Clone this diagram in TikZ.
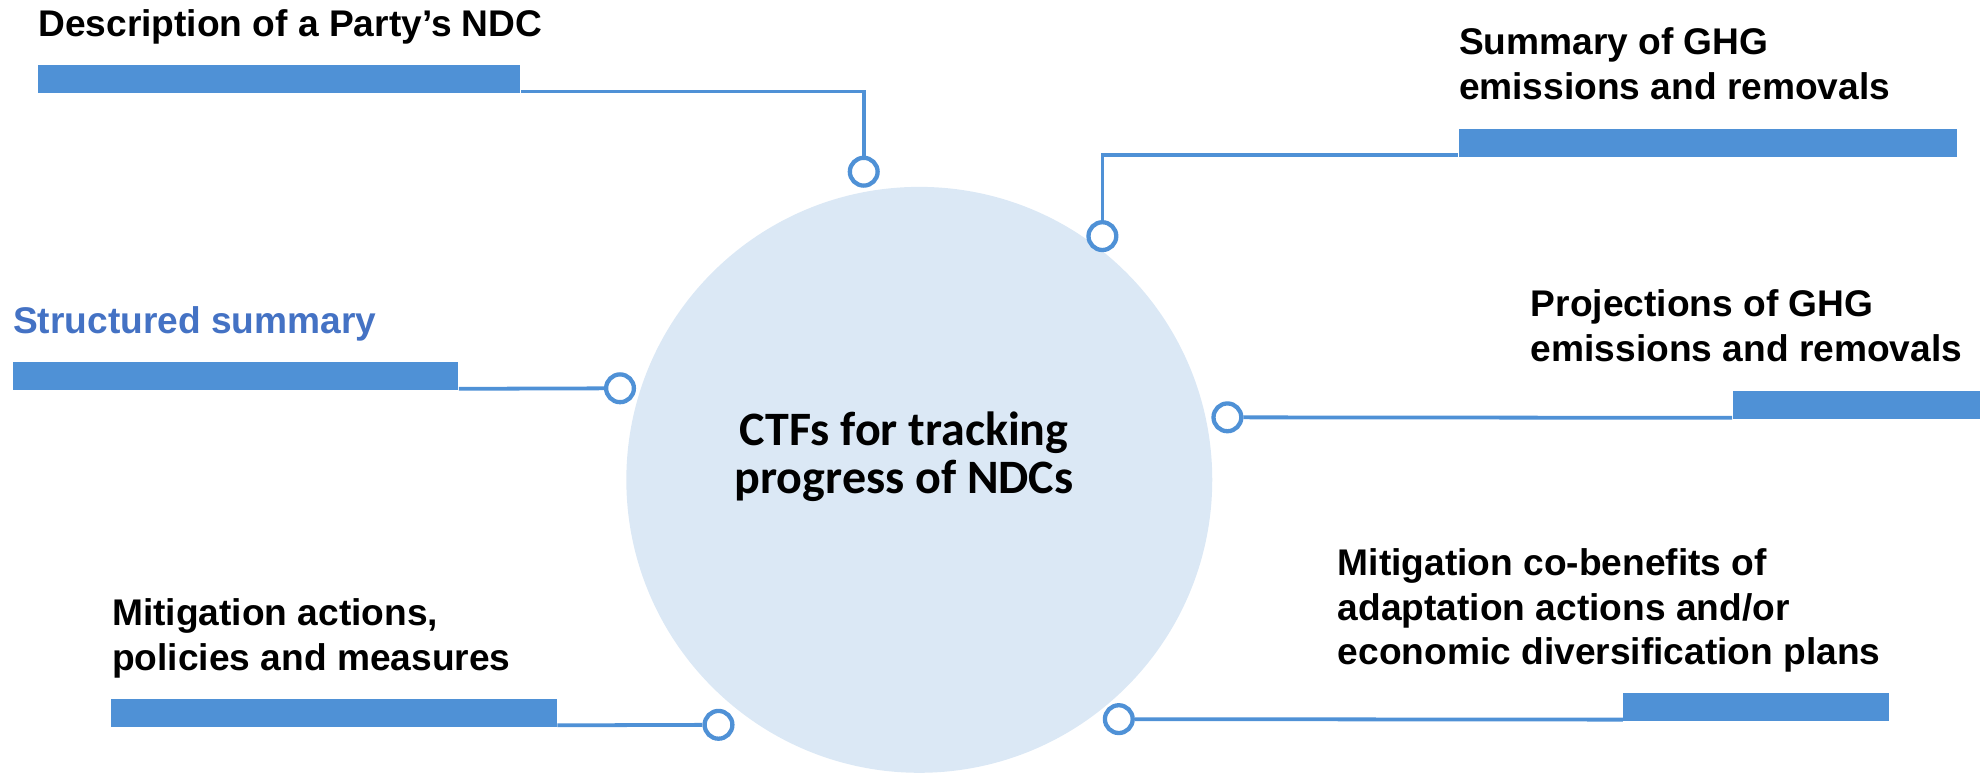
\documentclass[tikz,border=0pt]{standalone}
\usepackage{fontspec}
\usepackage{xcolor}
\usepackage{tikz}
\newfontfamily\itemfont{Liberation Sans}
\newfontfamily\hubfont{Carlito}
\definecolor{barblue}{RGB}{79,145,214}
\definecolor{hubblue}{RGB}{219,232,245}
\definecolor{summaryblue}{RGB}{68,114,196}

\begin{document}
\begin{tikzpicture}[x=0.5pt,y=-0.5pt,
		itembar/.style={fill=barblue,minimum height=11pt},
		itemdot/.style={circle,draw=barblue,line width=1.7pt,fill=white,minimum size=11pt},
		itemlink/.style={draw=barblue,line width=1.5pt},
		itemtext/.style={anchor=base west,align=left,font=\itemfont\bfseries\fontsize{14.7}{17.75}\selectfont},
		hub/.style={circle,fill=hubblue,minimum size=232pt},
		hubtext/.style={anchor=base,align=center,font=\hubfont\bfseries\fontsize{19}{19}\selectfont}]
		\tikzstyle{every node}+=[inner sep=0pt]
		\useasboundingbox (0,0) rectangle (1568,613);
		\node [hub] (hub) at (728,380) {};
		\node [hubtext] (hubtext) at (716,390.7) {CTFs for tracking\\progress of NDCs};
		\node [itembar,minimum width=191pt] (descbar) at (221,62.5) {};
		\node [itembar,minimum width=176.5pt] (sumbar) at (186.5,298) {};
		\node [itembar,minimum width=176.5pt] (mitbar) at (264.5,564.5) {};
		\node [itembar,minimum width=197.5pt] (ghgbar) at (1352.5,113) {};
		\node [itembar,minimum width=98pt] (projbar) at (1470,321) {};
		\node [itembar,minimum width=105.25pt] (cobbar) at (1390.75,560) {};
		\node [itemdot] (descdot) at (684,136) {};
		\node [itemdot] (sumdot) at (491,307.5) {};
		\node [itemdot] (mitdot) at (569,574) {};
		\node [itemdot] (ghgdot) at (873,187) {};
		\node [itemdot] (projdot) at (972,330.5) {};
		\node [itemdot] (cobdot) at (886,569.5) {};
		\draw [itemlink] ([yshift=0.75pt]descbar.south east) -| (descdot);
		\draw [itemlink] ([yshift=0.75pt]sumbar.south east) -- (sumdot);
		\draw [itemlink] ([yshift=0.75pt]mitbar.south east) -- (mitdot);
		\draw [itemlink] ([yshift=0.75pt]ghgbar.south west) -| (ghgdot);
		\draw [itemlink] ([yshift=0.75pt]projbar.south west) -- (projdot);
		\draw [itemlink] ([yshift=0.75pt]cobbar.south west) -- (cobdot);
		\node [itemtext] (desctext) at (30,29) {Description of a Party’s NDC};
		\node [itemtext,text=summaryblue] (sumtext) at (10,264.5) {Structured summary};
		\node [itemtext] (mittext) at (88.5,531) {Mitigation actions,\\policies and measures};
		\node [itemtext] (ghgtext) at (1155,78.6) {Summary of GHG\\emissions and removals};
		\node [itemtext] (projtext) at (1212,286.3) {Projections of GHG\\emissions and removals};
		\node [itemtext] (cobtext) at (1059,526.6) {Mitigation co-benefits of\\adaptation actions and/or\\economic diversification plans};
\end{tikzpicture}
\end{document}
